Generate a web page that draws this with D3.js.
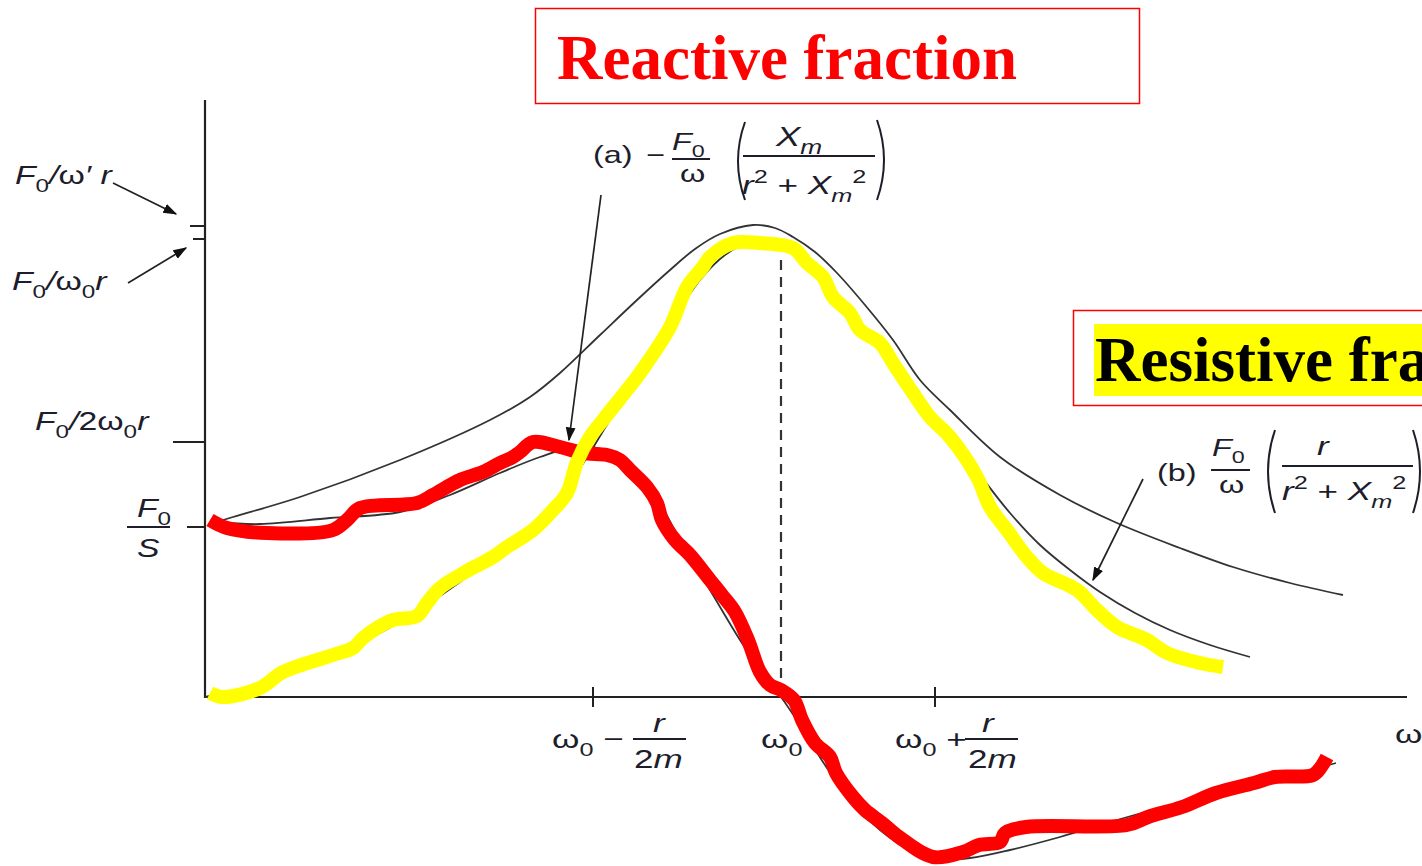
<!DOCTYPE html>
<html>
<head>
<meta charset="utf-8">
<script src="https://cdn.jsdelivr.net/npm/d3@7"></script>
<style>
  body { margin: 0; background: #fff; }
  svg { display: block; }
</style>
</head>
<body>
<div id="chart"></div>
<script>
// plot units: x runs along the ω axis (0 at the vertical axis), y is the amplitude (0 on the ω axis)
const amplitudeCurve = [[0.5,17.3],[2.8,18.0],[9.5,20.0],[19.5,23.7],[28.5,27.7],[32.5,30.0],[35.5,32.4],[39.5,36.2],[43.2,39.7],[46.5,42.7],[49.0,44.8],[51.5,46.3],[54.8,47.2],[57.0,46.9],[58.8,46.0],[61.0,44.5],[63.2,42.4],[66.0,39.2],[68.8,35.7],[71.5,31.7],[74.5,28.7],[79.5,24.0],[85.5,20.2],[91.2,17.4],[97.5,14.9],[102.8,13.0],[108.5,11.4],[113.8,10.2]];
// (b) resistive part
const resistiveCurve = [[0,0],[5.5,1.3],[12.5,4.0],[19.5,7.5],[25.5,11.5],[30.5,15.3],[34.5,19.0],[37.5,22.9],[40.5,27.7],[43.5,32.2],[46.5,37.2],[49.5,41.7],[52.0,44.2],[54.5,45.5],[56.5,45.7],[58.5,45.2],[60.5,43.7],[63.0,40.7],[65.5,37.2],[68.5,33.5],[71.5,29.7],[74.5,26.0],[77.5,22.2],[80.5,18.4],[83.5,15.2],[86.5,12.7],[89.5,10.5],[93.0,8.4],[96.5,6.7],[100.5,5.2],[104.5,4.0]];
// (a) reactive part
const reactiveCurve = [[1.0,17.5],[5.5,17.3],[12.5,17.9],[19.5,18.5],[24.5,20.2],[29.5,22.4],[33.5,24.0],[37.0,25.0],[40.0,24.7],[42.5,23.2],[45.0,20.2],[47.5,15.7],[50.5,10.7],[53.5,5.7],[56.0,2.0],[57.6,0],[59.5,-2.8],[62.0,-6.8],[64.5,-10.3],[67.5,-13.3],[70.5,-15.3],[73.5,-16.2],[76.5,-16.1],[80.5,-15.3],[85.5,-14.0],[90.5,-12.5],[95.5,-11.1],[100.5,-9.8],[105.5,-8.6],[109.5,-7.6],[113.1,-6.6]];

// hand drawn highlighter strokes over (b) and (a)
const yellowTrace = [[0.5,0.4],[1.8,0.0],[5.5,0.9],[7.8,2.5],[12.8,4.2],[14.8,4.9],[15.8,5.9],[17.2,6.9],[18.8,7.7],[21.2,8.1],[22.2,9.4],[23.5,10.9],[26.2,12.6],[28.8,14.0],[30.2,15.0],[32.8,16.7],[34.8,18.7],[36.2,20.4],[37.2,23.5],[38.5,26.0],[39.8,27.7],[42.2,30.7],[43.5,32.4],[46.5,37.0],[48.2,41.0],[49.8,43.0],[50.5,44.0],[52.8,45.4],[55.5,45.4],[58.8,44.9],[60.2,43.4],[61.8,42.0],[62.8,40.0],[64.5,38.4],[65.5,36.7],[67.5,35.4],[68.8,33.4],[70.8,30.4],[72.5,28.0],[74.5,26.0],[77.2,22.0],[78.5,19.0],[80.2,16.7],[82.2,14.0],[83.8,12.4],[87.2,10.7],[89.2,8.7],[91.2,7.0],[94.2,5.7],[96.2,4.4],[99.5,3.4],[101.8,3.0]];
const redTrace = [[0.5,17.7],[2.2,16.9],[6.2,16.4],[12.8,16.7],[14.2,17.7],[15.5,18.9],[21.2,19.4],[22.8,20.2],[25.5,21.7],[27.8,22.5],[29.5,23.4],[30.8,24.0],[31.5,24.5],[32.8,25.5],[35.5,25.0],[37.8,24.4],[40.2,24.2],[41.5,23.7],[42.5,22.7],[44.2,21.0],[45.2,19.4],[45.7,17.7],[47.0,15.7],[48.5,14.2],[50.5,11.7],[51.7,10.2],[53.0,8.5],[54.3,5.7],[55.5,2.5],[56.5,1.2],[57.6,0.7],[58.9,-0.3],[59.7,-2.3],[61.0,-4.6],[62.5,-6.0],[63.1,-7.6],[64.8,-10.0],[66.0,-11.3],[67.7,-12.6],[69.4,-14.0],[72.8,-16.0],[75.8,-15.5],[77.4,-14.8],[79.5,-14.5],[80.0,-13.6],[82.1,-13.0],[92.2,-12.8],[94.3,-12.0],[97.7,-11.0],[101.1,-9.6],[104.9,-8.6],[107.0,-8.0],[110.8,-7.8],[111.6,-7.0],[112.2,-6.0]];

// axis marks
const yTicks = [47.1, 45.8, 25.5, 17.0];      // F0/ω'r, F0/ω0r, F0/2ω0r, F0/S
const yTickLen = [15, 12, 32, 18];
const xTicks = [38.8, 73.0];                   // ω0 - r/2m, ω0 + r/2m
const omega0 = 57.6;
const dashTop = 43.7;

const W = 1422, H = 866;
const ink = "#1d1d2b";
const SX = 1.35;   // the textbook figure is stretched sideways

const svg = d3.select("#chart").append("svg")
  .attr("width", W).attr("height", H)
  .style("background", "#fff");

const x = d3.scaleLinear().domain([0, 120.2]).range([205, 1407]);
const y = d3.scaleLinear().domain([0, 59.7]).range([697, 100]);

const defs = svg.append("defs");
defs.append("marker")
  .attr("id", "head").attr("viewBox", "0 0 10 10")
  .attr("refX", 9).attr("refY", 5)
  .attr("markerWidth", 14).attr("markerHeight", 14)
  .attr("markerUnits", "userSpaceOnUse")
  .attr("orient", "auto")
  .append("path").attr("d", "M0,1.5 L10,5 L0,8.5 Z").attr("fill", "#111");

// axes
svg.append("line")
  .attr("x1", x(0)).attr("x2", x(0))
  .attr("y1", y(59.7)).attr("y2", y(0) + 1)
  .attr("stroke", "#222").attr("stroke-width", 2.2);
svg.append("line")
  .attr("x1", x(0) - 1).attr("x2", x(120.2))
  .attr("y1", y(0)).attr("y2", y(0))
  .attr("stroke", "#222").attr("stroke-width", 2.2);

svg.selectAll(".ytick").data(yTicks).enter().append("line")
  .attr("class", "ytick")
  .attr("x1", (d, i) => x(0) - yTickLen[i]).attr("x2", x(0))
  .attr("y1", d => y(d)).attr("y2", d => y(d))
  .attr("stroke", "#222").attr("stroke-width", 2);

svg.selectAll(".xtick").data(xTicks).enter().append("line")
  .attr("class", "xtick")
  .attr("x1", d => x(d)).attr("x2", d => x(d))
  .attr("y1", y(0) - 10).attr("y2", y(0) + 10)
  .attr("stroke", "#222").attr("stroke-width", 2);

svg.append("line")
  .attr("x1", x(omega0)).attr("x2", x(omega0))
  .attr("y1", y(dashTop)).attr("y2", y(0))
  .attr("stroke", "#333").attr("stroke-width", 2.2)
  .attr("stroke-dasharray", "10,7");

// curves
const smooth = d3.line().x(d => x(d[0])).y(d => y(d[1])).curve(d3.curveCatmullRom.alpha(0.5));
[amplitudeCurve, resistiveCurve, reactiveCurve].forEach(c => {
  svg.append("path").datum(c).attr("d", smooth)
    .attr("fill", "none").attr("stroke", "#333").attr("stroke-width", 1.8);
});

svg.append("path").datum(redTrace).attr("d", smooth)
  .attr("fill", "none").attr("stroke", "#ff0000").attr("stroke-width", 14)
  .attr("stroke-linejoin", "round").attr("stroke-linecap", "butt");
svg.append("path").datum(yellowTrace).attr("d", smooth)
  .attr("fill", "none").attr("stroke", "#ffff00").attr("stroke-width", 14)
  .attr("stroke-linejoin", "round").attr("stroke-linecap", "butt");

// text helpers
function label(px, py, parts, size) {
  const t = svg.append("text")
    .attr("transform", `translate(${px},${py}) scale(${SX},1)`)
    .attr("font-family", "'Liberation Sans', Arial, sans-serif")
    .attr("font-size", size).attr("fill", ink);
  let shift = 0;
  parts.forEach(p => {
    const kind = p[1] || "";
    let target = 0;
    if (kind.includes("sub")) target = size * 0.3;
    if (kind.includes("sup")) target = -size * 0.42;
    const s = t.append("tspan").text(p[0]);
    if (kind.includes("i")) s.attr("font-style", "italic");
    if (kind.includes("sub") || kind.includes("sup")) s.attr("font-size", size * 0.72);
    if (target !== shift) s.attr("dy", target - shift);
    shift = target;
  });
  return t;
}
function bar(x1, x2, yy) {
  svg.append("line").attr("x1", x1).attr("x2", x2).attr("y1", yy).attr("y2", yy)
    .attr("stroke", ink).attr("stroke-width", 1.8);
}
function paren(px, top, bot, left) {
  const w = 7, mid = (top + bot) / 2;
  const p = d3.path();
  if (left) { p.moveTo(px + w, top); p.quadraticCurveTo(px - w, mid, px + w, bot); }
  else { p.moveTo(px - w, top); p.quadraticCurveTo(px + w, mid, px - w, bot); }
  svg.append("path").attr("d", p.toString()).attr("fill", "none")
    .attr("stroke", ink).attr("stroke-width", 2);
}
function arrow(x1, y1, x2, y2) {
  svg.append("line").attr("x1", x1).attr("y1", y1).attr("x2", x2).attr("y2", y2)
    .attr("stroke", "#222").attr("stroke-width", 1.7).attr("marker-end", "url(#head)");
}

// y labels
label(15, 184, [["F","i"],["0","sub"],["/","i"],["ω"],["′ ","i"],["r","i"]], 25);
arrow(113, 183, 176, 214);
label(12, 290, [["F","i"],["0","sub"],["/","i"],["ω"],["0","sub"],["r","i"]], 25);
arrow(128, 283, 186, 248);
label(35, 430, [["F","i"],["0","sub"],["/","i"],["2"],["ω"],["0","sub"],["r","i"]], 25);
label(137, 517, [["F","i"],["0","sub"]], 25);
bar(127, 170, 527);
label(137, 557, [["S","i"]], 25);

// x labels
label(552, 748, [["ω"],["0","sub"],[" −"]], 26);
label(653, 732, [["r","i"]], 26);
bar(633, 686, 739);
label(634, 768, [["2"],["m","i"]], 26);
label(761, 748, [["ω"],["0","sub"]], 26);
label(895, 748, [["ω"],["0","sub"],[" +"]], 26);
label(982, 732, [["r","i"]], 26);
bar(965, 1018, 739);
label(968, 768, [["2"],["m","i"]], 26);
label(1395, 743, [["ω"]], 26);

// (a) formula
label(593, 163, [["(a)"]], 24);
label(646, 163, [["−"]], 24);
label(672, 150, [["F","i"],["0","sub"]], 24);
bar(672, 710, 159);
label(680, 182, [["ω"]], 24);
paren(738, 122, 200, true);
label(776, 146, [["X","i"],["m","isub"]], 27);
bar(743, 875, 156);
label(742, 194, [["r","i"],["2","sup"],[" + "],["X","i"],["m","isub"],["2","sup"]], 26);
paren(884, 120, 200, false);
arrow(601, 195, 569, 440);

// (b) formula
label(1157, 481, [["(b)"]], 24);
label(1212, 456, [["F","i"],["0","sub"]], 24);
bar(1211, 1250, 470);
label(1219, 493, [["ω"]], 24);
paren(1268, 430, 513, true);
label(1317, 455, [["r","i"]], 26);
bar(1282, 1413, 466);
label(1282, 500, [["r","i"],["2","sup"],[" + "],["X","i"],["m","isub"],["2","sup"]], 26);
paren(1420, 430, 513, false);
arrow(1143, 479, 1093, 580);

// overlay titles
svg.append("rect").attr("x", 535.5).attr("y", 8.5).attr("width", 604).attr("height", 95)
  .attr("fill", "#fff").attr("stroke", "#ff0000").attr("stroke-width", 1.5);
svg.append("text").attr("x", 557).attr("y", 79)
  .attr("font-family", "'Liberation Serif', 'Times New Roman', serif")
  .attr("font-weight", "bold").attr("font-size", 63).attr("fill", "#ff0000")
  .text("Reactive fraction");

// this box runs off the right edge in the original slide
svg.append("rect").attr("x", 1073.5).attr("y", 310.5).attr("width", 420).attr("height", 95)
  .attr("fill", "#fff").attr("stroke", "#ff0000").attr("stroke-width", 1.5);
svg.append("rect").attr("x", 1094).attr("y", 324).attr("width", 400).attr("height", 72)
  .attr("fill", "#ffff00");
svg.append("text").attr("x", 1095).attr("y", 381)
  .attr("font-family", "'Liberation Serif', 'Times New Roman', serif")
  .attr("font-weight", "bold").attr("font-size", 63).attr("fill", "#000")
  .text("Resistive fraction");
</script>
</body>
</html>
